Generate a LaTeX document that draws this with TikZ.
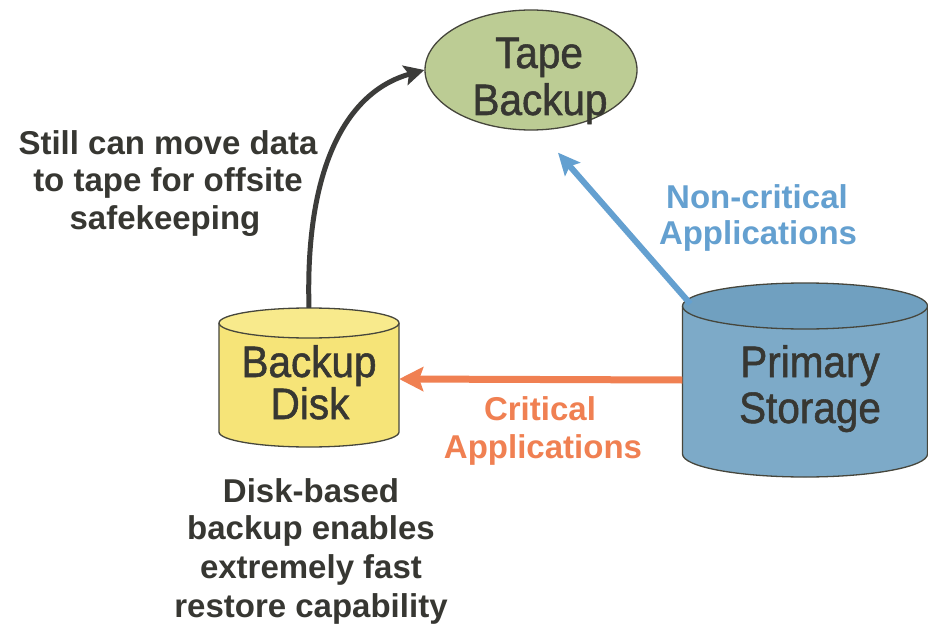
\documentclass[tikz,border=0pt]{standalone}
\usepackage{fontspec}
\setmainfont{Liberation Sans}
\newfontfamily\nodefont[FakeStretch=0.92,FakeBold=1.2]{Liberation Sans}
\usetikzlibrary{shapes.geometric,arrows.meta,calc}
\definecolor{txt}{RGB}{55,55,50}
\definecolor{edge}{RGB}{70,70,60}
\definecolor{tapefill}{RGB}{188,204,148}
\definecolor{diskfill}{RGB}{246,228,120}
\definecolor{disktop}{RGB}{248,234,140}
\definecolor{primfill}{RGB}{125,170,200}
\definecolor{primtop}{RGB}{112,160,192}
\definecolor{orangec}{RGB}{240,128,82}
\definecolor{bluec}{RGB}{100,160,208}
\definecolor{darkarrow}{RGB}{60,60,58}
\begin{document}
\begin{tikzpicture}[x=1pt,y=-1pt,
  lbl/.style={anchor=base,inner sep=0pt,font=\fontsize{33}{37}\selectfont\bfseries,text=txt},
  nlbl/.style={anchor=base,inner sep=0pt,font=\nodefont\fontsize{44}{48}\selectfont,text=txt},
  hole/.style={rectangle,inner sep=0pt,draw=none},
  outline/.style={draw=edge,line width=1.3pt}]
\useasboundingbox[fill=white] (0,0) rectangle (928,631);

% Tape backup ellipse
\node[ellipse,inner sep=0pt,minimum width=212pt,minimum height=120pt,
      fill=tapefill,outline] (tape) at (531,70) {};
\node[nlbl] (tapeA) at (539,68) {Tape};
\node[nlbl] (tapeB) at (540,115) {Backup};

% Backup disk cylinder
\node[hole,minimum width=180pt,minimum height=142pt] (bdisk) at (309,379) {};
\fill[diskfill] (219,323) rectangle (399,432);
\fill[diskfill] (309,432) ellipse [x radius=90,y radius=15];
\draw[outline] (219,323) -- (219,432) arc[start angle=180,end angle=0,x radius=90,y radius=15] -- (399,323);
\filldraw[fill=disktop,outline] (309,323) ellipse [x radius=90,y radius=15];
\node[nlbl] (bdA) at (309,377) {Backup};
\node[nlbl] (bdB) at (310,419) {Disk};

% Primary storage cylinder
\node[hole,minimum width=245pt,minimum height=194pt] (prim) at (805,380) {};
\fill[primfill] (682.5,306) rectangle (927.5,454);
\fill[primfill] (805,454) ellipse [x radius=122.5,y radius=23];
\draw[outline] (682.5,306) -- (682.5,454) arc[start angle=180,end angle=0,x radius=122.5,y radius=23] -- (927.5,306);
\filldraw[fill=primtop,outline] (805,306) ellipse [x radius=122.5,y radius=23];
\node[nlbl] (prA) at (810,377) {Primary};
\node[nlbl] (prB) at (810,423) {Storage};

% Connectors
\draw[orangec,line width=7pt,-{Stealth[length=24pt,width=24pt,inset=4pt]}]
  (prim.west) -- (bdisk.east);
\coordinate (bluestart) at ($(prim.north west)+(8,21)$);
\coordinate (blueend) at ($(tape.south)+(27,22)$);
\draw[bluec,line width=6pt,-{Stealth[length=22pt,width=20pt,inset=4pt]}]
  (bluestart) -- (blueend);
\draw[darkarrow,line width=5pt,-{Stealth[length=20pt,width=20pt,inset=4pt]}]
  (bdisk.north) .. controls (305,170) and (345,92) .. (tape.west);

% Labels
\node[lbl] (s1) at (168,155) {Still can move data};
\node[lbl] (s2) at (168,192) {to tape for offsite};
\node[lbl] (s3) at (165,229) {safekeeping};

\node[lbl,text=bluec] (n1) at (757,208) {Non-critical};
\node[lbl,text=bluec] (n2) at (758,244) {Applications};

\node[lbl,text=orangec] (c1) at (540,420) {Critical};
\node[lbl,text=orangec] (c2) at (543,458) {Applications};

\node[lbl] (d1) at (311,502) {Disk-based};
\node[lbl] (d2) at (311,539) {backup enables};
\node[lbl] (d3) at (311,578) {extremely fast};
\node[lbl] (d4) at (311,617) {restore capability};
\end{tikzpicture}
\end{document}
